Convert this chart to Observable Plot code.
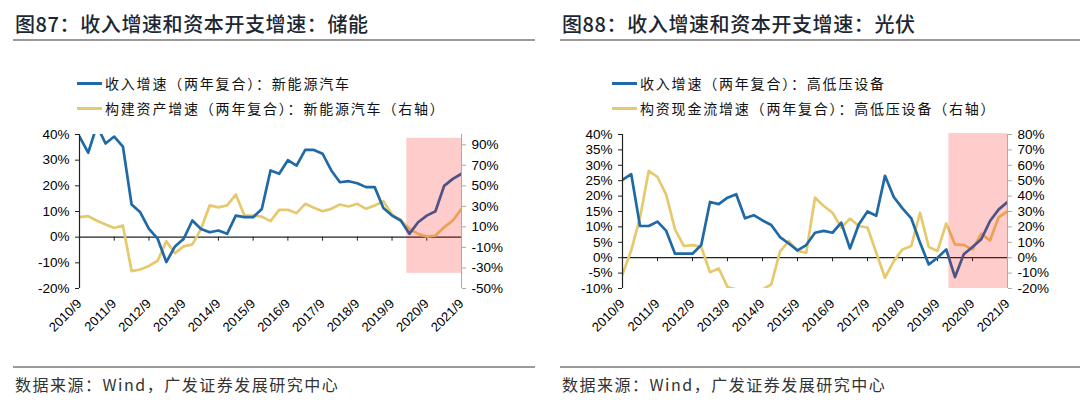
<!DOCTYPE html>
<html><head><meta charset="utf-8">
<script src="https://cdn.jsdelivr.net/npm/d3@7"></script>
<script src="https://cdn.jsdelivr.net/npm/@observablehq/plot@0.6"></script>
<style>
body{margin:0;background:#fff;width:1080px;height:405px;position:relative;overflow:hidden;font-family:"Noto Sans CJK SC",sans-serif;}
.abs{position:absolute;}
.title{font-size:20px;font-weight:500;color:#1c2733;letter-spacing:0.6px;white-space:nowrap;line-height:28px;}
.rule{height:2px;background:#9a9a9a;}
.leg{font-size:14px;letter-spacing:1.8px;color:#111;white-space:nowrap;line-height:20px;}
.legline{height:2.5px;width:25px;}
.src{font-size:16px;letter-spacing:1.5px;color:#333;white-space:nowrap;line-height:22px;}
</style>
</head><body>
<script>
// ---- data ----
const tickLabels = ["2010/9","2011/9","2012/9","2013/9","2014/9","2015/9","2016/9","2017/9","2018/9","2019/9","2020/9","2021/9"];

// 图87 储能 / 新能源汽车 (quarterly, 2010/9 – 2021/9)
const rev87 = [39.2,32.9,43.5,36.5,39.2,35.3,12.7,9.7,3.2,-0.6,-9.7,-3.6,-0.6,6.5,3.2,1.9,2.6,1.3,8.4,7.8,7.8,11,26,24.7,30,27.9,34,34,32.5,26,21.4,21.8,21,19.5,19.5,11.4,8.4,6.5,1.3,5.8,8.4,10.1,20,22.7,24.7];
const capex87 = [19.5,20.5,16,12.3,9,11.4,-33,-31.5,-28,-23,-4,-15.6,-9,-7,8,31,29,31,41.5,21,21,20,15.6,26.6,26.6,23.4,32.5,28.6,25.3,27.6,31.8,29.9,32.5,27.6,30.8,35,22,16.9,8.1,3.2,0.6,1.6,9.7,16.2,27.6];
const leftTicks87 = [-20,-10,0,10,20,30,40];
const rightTicks87 = [-50,-30,-10,10,30,50,70,90];
const shade87 = [{x1:37.7, x2:44, y1:-14.1, y2:38.5}];

// 图88 光伏 / 高低压设备
const rev88 = [25.3,27.1,10.3,10.3,11.7,8.7,1.3,1.3,1.3,4.1,18.1,17.4,19.5,20.6,12.8,13.8,12.1,10.6,6.7,4.6,2.4,4.1,8.1,8.7,8.1,11.4,3.0,10.8,15,13.6,26.6,19.7,16,12.8,4.9,-2.2,0,2.7,-6.3,1.1,3.5,6,11.9,15.7,18.1];
const capex88 = [-10.8,4.8,26,56.4,52.4,40.8,18.4,7.6,8.2,7,-9.4,-7,-19,-20.6,-28,-26,-20.6,-17.4,4,10.8,4.4,3.2,39,33.6,29.2,19.6,25.4,20.6,19.6,3.2,-13,-2.2,5.4,7.6,29.2,7,4.4,22.2,8.6,8.2,5.4,15.6,11.2,26.4,30];
const leftTicks88 = [-10,-5,0,5,10,15,20,25,30,35,40];
const rightTicks88 = [-20,-10,0,10,20,30,40,50,60,70,80];
const shade88 = [{x1:37.3, x2:44, y1:-10, y2:40.3}];

const BLUE = "#1f69a6", YELLOW = "#e6c96c";

function chart({rev, capex, k, yDomain, leftTicks, rightTicks, shade, marginLeft, marginRight}) {
  const data = rev.map((v, i) => ({i, rev: v, capex: capex[i] / k}));
  const tickIdx = tickLabels.map((_, j) => j * 4);
  const last = rev.length - 1;
  return Plot.plot({
    width: 540, height: 225,
    marginLeft, marginRight, marginTop: 19, marginBottom: 52,
    x: {type: "linear", domain: [0, last], label: null},
    y: {domain: yDomain, label: null},
    style: {fontFamily: "'Liberation Sans', Arial, sans-serif", fontSize: "13.5px", color: "#000", background: "transparent", overflow: "visible"},
    marks: [
      Plot.ruleY([0], {stroke: "#222", strokeWidth: 1.2}),
      Plot.ruleX(tickIdx, {x: d => d, y1: 0, y2: 0, insetTop: 4, stroke: "#222"}),
      Plot.lineY(data, {x: "i", y: "capex", stroke: YELLOW, strokeWidth: 2.7, clip: true}),
      Plot.lineY(data, {x: "i", y: "rev", stroke: BLUE, strokeWidth: 2.7, clip: true}),
      Plot.rect(shade, {x1: "x1", x2: "x2", y1: "y1", y2: "y2", fill: "red", fillOpacity: 0.2}),
      Plot.ruleX([0], {stroke: "#222", strokeWidth: 1.2}),
      Plot.ruleX([last], {stroke: "#aaa", strokeWidth: 1}),
      Plot.axisY({anchor: "left", ticks: leftTicks, tickFormat: d => d + "%", tickSize: 4, tickPadding: 6, stroke: "#222"}),
      Plot.axisY({anchor: "right", ticks: rightTicks.map(t => t / k), tickFormat: d => Math.round(d * k) + "%", tickSize: 4, tickPadding: 6, stroke: "#aaa"}),
      Plot.axisX({anchor: "bottom", ticks: tickIdx, tickFormat: i => tickLabels[Math.round(i / 4)], tickRotate: -45, tickSize: 0, tickPadding: 13, fontSize: 13})
    ]
  });
}

function panel(left, cfg) {
  const wrap = document.createElement("div");
  wrap.className = "abs";
  wrap.style.left = left + "px"; wrap.style.top = "0px"; wrap.style.width = "540px"; wrap.style.height = "405px";
  wrap.innerHTML = `
    <div class="abs title" style="left:${cfg.tx}px;top:10px">${cfg.title}</div>
    <div class="abs rule" style="left:${cfg.tx - 2}px;top:39px;width:522px"></div>
    <div class="abs legline" style="left:${cfg.lx}px;top:82px;background:${BLUE}"></div>
    <div class="abs leg" style="left:${cfg.lx + 28}px;top:73px">${cfg.leg1}</div>
    <div class="abs legline" style="left:${cfg.lx}px;top:107px;background:${YELLOW}"></div>
    <div class="abs leg" style="left:${cfg.lx + 28}px;top:98px">${cfg.leg2}</div>
    <div class="abs rule" style="left:${cfg.tx - 2}px;top:366px;width:522px"></div>
    <div class="abs src" style="left:${cfg.tx}px;top:373px">数据来源：Wind，广发证券发展研究中心</div>`;
  const holder = document.createElement("div");
  holder.className = "abs";
  holder.style.left = "0px"; holder.style.top = "115px";
  holder.appendChild(chart(cfg.chart));
  wrap.appendChild(holder);
  document.body.appendChild(wrap);
}

panel(0, {
  tx: 15, lx: 77,
  title: "图87：收入增速和资本开支增速：储能",
  leg1: "收入增速（两年复合）：新能源汽车",
  leg2: "构建资产增速（两年复合）：新能源汽车（右轴）",
  chart: {rev: rev87, capex: capex87, k: 2.5, yDomain: [-20, 40], leftTicks: leftTicks87, rightTicks: rightTicks87, shade: shade87, marginLeft: 79, marginRight: 79}
});
panel(540, {
  tx: 22, lx: 72,
  title: "图88：收入增速和资本开支增速：光伏",
  leg1: "收入增速（两年复合）：高低压设备",
  leg2: "构资现金流增速（两年复合）：高低压设备（右轴）",
  chart: {rev: rev88, capex: capex88, k: 2, yDomain: [-10, 40], leftTicks: leftTicks88, rightTicks: rightTicks88, shade: shade88, marginLeft: 82, marginRight: 73}
});
</script>
</body></html>
